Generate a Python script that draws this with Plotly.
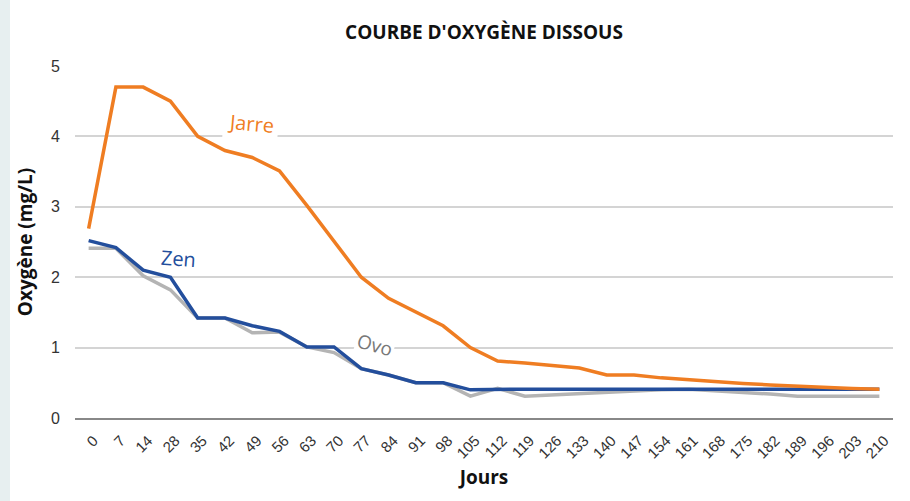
import plotly.graph_objects as go

jours = ["0", "7", "14", "28", "35", "42", "49", "56", "63", "70", "77", "84", "91", "98",
         "105", "112", "119", "126", "133", "140", "147", "154", "161", "168", "175", "182",
         "189", "196", "203", "210"]

jarre = [2.69, 4.7, 4.7, 4.5, 4.0, 3.8, 3.7, 3.51, 3.02, 2.52, 2.0, 1.7, 1.51, 1.31,
         1.0, 0.81, 0.78, 0.75, 0.71, 0.61, 0.61, 0.57, 0.54, 0.51, 0.49, 0.47,
         0.45, 0.43, 0.42, 0.41]
zen = [2.52, 2.42, 2.1, 2.0, 1.42, 1.42, 1.31, 1.23, 1.01, 1.01, 0.7, 0.61, 0.5, 0.5,
       0.4, 0.41, 0.41, 0.41, 0.41, 0.41, 0.41, 0.41, 0.41, 0.41, 0.41, 0.41,
       0.41, 0.41, 0.41, 0.41]
ovo = [2.41, 2.41, 2.02, 1.82, 1.42, 1.42, 1.21, 1.22, 1.01, 0.93, 0.7, 0.61, 0.5, 0.5,
       0.31, 0.42, 0.31, 0.33, 0.35, 0.37, 0.38, 0.4, 0.41, 0.39, 0.36, 0.34,
       0.31, 0.31, 0.31, 0.31]

ORANGE = "#ef7d22"
BLUE = "#234e9c"
GRAY = "#b4b4b4"
TFONT = "Open Sans"

fig = go.Figure()
fig.add_trace(go.Scatter(x=jours, y=ovo, mode="lines", line=dict(color=GRAY, width=3.5), name="Ovo"))
fig.add_trace(go.Scatter(x=jours, y=zen, mode="lines", line=dict(color=BLUE, width=3.5), name="Zen"))
fig.add_trace(go.Scatter(x=jours, y=jarre, mode="lines", line=dict(color=ORANGE, width=3.5), name="Jarre"))

L, R, T, B = 75, 17, 66, 83
W, H = 910, 501
pw, ph = W - L - R, H - T - B

fig.add_shape(type="rect", xref="paper", yref="paper",
              x0=(10 - L) / pw, x1=(W - L) / pw + 0.01,
              y0=-(H - T - ph) / ph - 0.01, y1=(H - T - 8) / ph,
              fillcolor="white", line=dict(width=0), layer="below")

# annotation x positions are category indices
fig.add_annotation(x=5.97, y=4.18, text="Jarre", showarrow=False, textangle=5,
                   font=dict(family=TFONT, size=20, color=ORANGE),
                   bgcolor="white", borderpad=4)
fig.add_annotation(x=3.29, y=2.27, text="Zen", showarrow=False, textangle=4,
                   font=dict(family=TFONT, size=20, color=BLUE),
                   bgcolor="rgba(0,0,0,0)", borderpad=0)
fig.add_annotation(x=10.5, y=1.04, text="Ovo", showarrow=False, textangle=15,
                   font=dict(family=TFONT, size=19, color="#787878"),
                   bgcolor="white", borderpad=1)

fig.update_layout(
    width=W, height=H,
    margin=dict(l=L, r=R, t=T, b=B),
    paper_bgcolor="#e7eff0",
    plot_bgcolor="rgba(0,0,0,0)",
    showlegend=False,
    title=dict(text="<b>COURBE D'OXYGÈNE DISSOUS</b>", x=0.5, xref="paper",
               y=0.935, yanchor="middle",
               font=dict(family=TFONT, size=19, color="#111")),
    font=dict(family="Liberation Sans", color="#333"),
    xaxis=dict(type="category", range=[-0.5, len(jours) - 0.5], automargin=False,
               tickmode="array", tickvals=jours, ticktext=jours,
               tickangle=-45, showgrid=False, ticks="",
               tickfont=dict(family="Liberation Sans", size=15, color="#333"),
               showline=True, linecolor="#888", linewidth=2,
               title=dict(text="<b>Jours</b>", standoff=10,
                          font=dict(family=TFONT, size=19, color="#111")),
               ticklabelshift=5, ticklabelstandoff=6),
    yaxis=dict(range=[0, 5], dtick=1, showgrid=True, gridcolor="#d4d4d4", gridwidth=2,
               zeroline=False, ticks="", automargin=False,
               tickfont=dict(family="Liberation Sans", size=16, color="#333"),
               ticklabelstandoff=14,
               title=dict(text="<b>Oxygène (mg/L)</b>", standoff=13,
                          font=dict(family=TFONT, size=19, color="#111"))),
)

fig.write_html("out.html", config={"displayModeBar": False},
               post_script="document.body.style.margin='0';")
